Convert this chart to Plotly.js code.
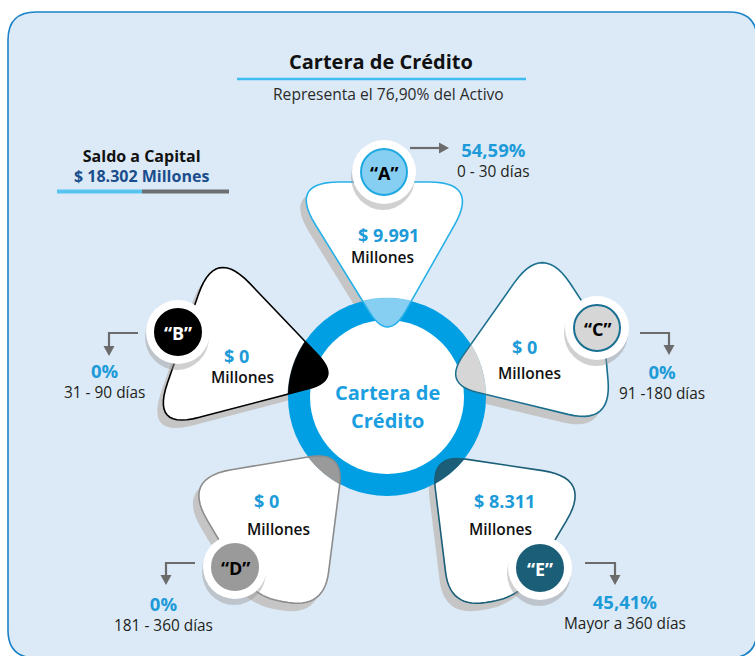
<!DOCTYPE html>
<html>
<head>
<meta charset="utf-8">
<script src="https://cdn.plot.ly/plotly-3.0.1.min.js"></script>
<style>html,body{margin:0;padding:0;background:#fff;}#chart{width:755px;height:656px;}</style>
</head>
<body>
<div id="chart"></div>
<script>
// ---------------- DATA ----------------
const categories = ['A', 'B', 'C', 'D', 'E'];
const saldoMillones = [9991, 0, 0, 0, 8311];
const participacion = [54.59, 0, 0, 0, 45.41];
const plazos = ['0 - 30 días', '31 - 90 días', '91 -180 días', '181 - 360 días', 'Mayor a 360 días'];
const saldoTotal = 18302;
const pctActivo = 76.90;

// ---------------- STYLE / GEOMETRY ----------------
const segColor   = ['#86cff3', '#000000', '#d6d6d6', '#9a9a9a', '#1b5e78'];
const edgeColor  = ['#27b1e8', '#000000', '#1a6f8f', '#8c8c8c', '#1b5e78'];
const letterCol  = ['#000000', '#ffffff', '#000000', '#000000', '#ffffff'];
const innerEdge  = ['#1ea9e1', '#000000', '#1a7092', '#9a9a9a', '#1b5e78'];
const petalVerts = [
  [[388,342,35],[479,182,50],[289,182,50]],
  [[342,380,35],[215,247,50],[151,430,50]],
  [[443,384,35],[543,242,50],[604,335,30],[612,425,50]],
  [[344,451,35],[324,608,45],[253,597,30],[182,478,50]],
  [[431,454,35],[592,478,50],[521,597,30],[450,608,45]]
];
const badge = [[384,172],[178,332],[597,328],[235,567],[540,568]];
const valPos = [[388,235,382,257],[236,356,242,377],[524,347,529,373],[266,501,278,529],[504,501,500,529]];
const pctPos = [[493,159.5],[104,380],[662,381.5],[163,613.5],[625,611]];
const arrows = [
  {pts:[[410,148],[440,148]], tip:[449,148], dir:'r'},
  {pts:[[138,333],[109,333],[109,347]], tip:[109,356], dir:'d'},
  {pts:[[640,333],[669,333],[669,346]], tip:[669,355], dir:'d'},
  {pts:[[195,563],[166,563],[166,576]], tip:[166,585], dir:'d'},
  {pts:[[585,563],[615,563],[615,576]], tip:[615,585], dir:'d'}
];
const ring = {cx:387, cy:397, rOut:99, rIn:77};
const SANS = '"Open Sans", sans-serif';

// ---------------- HELPERS ----------------
function roundedPoly(verts){
  const n = verts.length, out = [];
  for(let i=0;i<n;i++){
    const V = verts[i], P = verts[(i-1+n)%n], N = verts[(i+1)%n];
    const l1 = Math.hypot(P[0]-V[0],P[1]-V[1]), l2 = Math.hypot(N[0]-V[0],N[1]-V[1]);
    const d = Math.min(V[2], l1*0.5, l2*0.5);
    const a = [V[0]+(P[0]-V[0])/l1*d, V[1]+(P[1]-V[1])/l1*d];
    const b = [V[0]+(N[0]-V[0])/l2*d, V[1]+(N[1]-V[1])/l2*d];
    for(let k=0;k<=14;k++){
      const t=k/14, u=1-t;
      out.push([u*u*a[0]+2*u*t*V[0]+t*t*b[0], u*u*a[1]+2*u*t*V[1]+t*t*b[1]]);
    }
  }
  return out;
}
function circlePoly(cx,cy,r,n){
  const p=[]; for(let i=0;i<n;i++){const a=2*Math.PI*i/n; p.push([cx+r*Math.cos(a), cy+r*Math.sin(a)]);} return p;
}
function clipPoly(subject, clip){
  let output = subject;
  let area=0; for(let i=0;i<clip.length;i++){const a=clip[i],b=clip[(i+1)%clip.length];area+=a[0]*b[1]-b[0]*a[1];}
  const sgn = area>0?1:-1;
  for(let i=0;i<clip.length;i++){
    const A=clip[i], B=clip[(i+1)%clip.length];
    const inside = p => sgn*((B[0]-A[0])*(p[1]-A[1])-(B[1]-A[1])*(p[0]-A[0]))>=0;
    const inter = (p,q)=>{
      const x1=p[0],y1=p[1],x2=q[0],y2=q[1],x3=A[0],y3=A[1],x4=B[0],y4=B[1];
      const den=(x1-x2)*(y3-y4)-(y1-y2)*(x3-x4);
      const t=((x1-x3)*(y3-y4)-(y1-y3)*(x3-x4))/den;
      return [x1+t*(x2-x1), y1+t*(y2-y1)];
    };
    const input = output; output = [];
    if(!input.length) break;
    for(let j=0;j<input.length;j++){
      const cur=input[j], prev=input[(j-1+input.length)%input.length];
      if(inside(cur)){ if(!inside(prev)) output.push(inter(prev,cur)); output.push(cur); }
      else if(inside(prev)) output.push(inter(prev,cur));
    }
  }
  return output.filter((p,i,arr)=>{const q=arr[(i+1)%arr.length]; return Math.hypot(p[0]-q[0],p[1]-q[1])>0.01;});
}
function insideRun(poly, cx, cy, r){
  const n=poly.length, ins = poly.map(p=>Math.hypot(p[0]-cx,p[1]-cy)<=r);
  let start = ins.findIndex((v,i)=>!v && ins[(i+1)%n]);
  if(start<0) return [];
  const cross=(p,q)=>{ let a=p,b=q; for(let k=0;k<30;k++){const m=[(a[0]+b[0])/2,(a[1]+b[1])/2]; if(Math.hypot(m[0]-cx,m[1]-cy)<=r) b=m; else a=m;} return b; };
  const out=[cross(poly[start], poly[(start+1)%n])];
  let i=(start+1)%n;
  while(ins[i]){ out.push(poly[i]); const nx=(i+1)%n; if(!ins[nx]){ out.push(cross(poly[nx],poly[i])); break;} i=nx; }
  return out;
}
function toPath(pts, close=true){
  return 'M ' + pts.map(p=>p[0].toFixed(2)+','+p[1].toFixed(2)).join(' L ') + (close?' Z':'');
}
function shift(pts,dx,dy){return pts.map(p=>[p[0]+dx,p[1]+dy]);}
function fmtMiles(n){return String(n).replace(/\B(?=(\d{3})+(?!\d))/g,'.');}
function fmtPct(p){return p===0?'0%':p.toFixed(2).replace('.',',')+'%';}

// ---------------- BUILD ----------------
const shapes = [];
const S = (o)=>shapes.push(Object.assign({xref:'x', yref:'y', layer:'above', opacity:1}, o));

S({type:'path', path:'M 8,40 Q 8,12 36,12 L 729,12 Q 757,12 757,40 L 757,630 Q 757,658 729,658 L 36,658 Q 8,658 8,630 Z',
   fillcolor:'#dceaf7', line:{color:'#1b82c8', width:1.6}});
S({type:'line', x0:237, x1:526, y0:79, y1:79, line:{color:'#3fbdf0', width:2.5}});
S({type:'line', x0:57, x1:142, y0:191.5, y1:191.5, line:{color:'#56c3f0', width:4}});
S({type:'line', x0:142, x1:229, y0:191.5, y1:191.5, line:{color:'#6d6e71', width:4}});

const petalPolys = petalVerts.map(v=>roundedPoly(v));
petalPolys.forEach(p=>S({type:'path', path:toPath(shift(p,-6,8)), fillcolor:'#c5c5c5', line:{width:0}}));
petalPolys.forEach((p,i)=>S({type:'path', path:toPath(p), fillcolor:'#ffffff', line:{color:edgeColor[i], width:1.6}}));
const outerC = circlePoly(ring.cx, ring.cy, ring.rOut, 240);
S({type:'circle', x0:ring.cx-ring.rOut, x1:ring.cx+ring.rOut, y0:ring.cy-ring.rOut, y1:ring.cy+ring.rOut, fillcolor:'#009fe3', line:{width:0}});
S({type:'circle', x0:ring.cx-ring.rIn, x1:ring.cx+ring.rIn, y0:ring.cy-ring.rIn, y1:ring.cy+ring.rIn, fillcolor:'#ffffff', line:{width:0}});
petalPolys.forEach((p,i)=>{
  const seg = clipPoly(p, outerC);
  if(seg.length) S({type:'path', path:toPath(seg), fillcolor:segColor[i], fillrule:'nonzero', line:{color:segColor[i], width:0.5}});
  const run = insideRun(p, ring.cx, ring.cy, ring.rOut);
  if(run.length) S({type:'path', path:toPath(run,false), line:{color:edgeColor[i], width:1.5}});
});
badge.forEach((c,i)=>{
  S({type:'circle', x0:c[0]-33, x1:c[0]+31, y0:c[1]-28, y1:c[1]+38, fillcolor:'rgba(150,150,150,0.45)', line:{width:0}});
  S({type:'circle', x0:c[0]-32, x1:c[0]+32, y0:c[1]-32, y1:c[1]+32, fillcolor:'#ffffff', line:{width:0}});
  S({type:'circle', x0:c[0]-23, x1:c[0]+23, y0:c[1]-23, y1:c[1]+23, fillcolor:segColor[i], line:{color:innerEdge[i], width:2}});
});
arrows.forEach(a=>{
  S({type:'path', path:toPath(a.pts,false), line:{color:'#6b6b6b', width:2.2}});
  const [tx,ty]=a.tip;
  const head = a.dir==='r' ? [[tx,ty],[tx-10,ty-5.5],[tx-10,ty+5.5]] : [[tx,ty],[tx-5.5,ty-10],[tx+5.5,ty-10]];
  S({type:'path', path:toPath(head), fillcolor:'#6b6b6b', line:{width:0}});
});

const ann = [];
const T = (x,y,text,size,color,weight)=>ann.push({x,y,xref:'x',yref:'y',text,showarrow:false,xanchor:'center',yanchor:'middle',align:'center',
  font:{size, color, weight:weight||400, family:SANS}});

T(381,61,'Cartera de Crédito',20,'#111111',700);
T(388,94,'Representa el '+pctActivo.toFixed(2).replace('.',',')+'% del Activo',15.6,'#2a2a2a',400);
T(141,165.5,'<span style="font-size:16px;color:#111111">Saldo a Capital</span><br><span style="font-size:16px;color:#1a4d8c">$ '+fmtMiles(saldoTotal)+' Millones</span>',15.2,'#111111',700);
T(387,392,'Cartera de',20,'#1b9fe0',700);
T(387,420,'Crédito',20,'#1b9fe0',700);

categories.forEach((c,i)=>{
  T(badge[i][0], badge[i][1]+1, '\u201C'+c+'\u201D', 18, letterCol[i], 700);
  T(valPos[i][0], valPos[i][1], '$ '+fmtMiles(saldoMillones[i]), 18, '#1d9bd8', 700);
  T(valPos[i][2], valPos[i][3], 'Millones', 15.5, '#111111', 600);
  T(pctPos[i][0], pctPos[i][1],
    '<span style="font-size:18.5px;font-weight:700;color:#1d9bd8">'+fmtPct(participacion[i])+'</span><br>'+plazos[i],
    15.4, '#231f20', 400);
});

const layout = {
  width:755, height:656, margin:{l:0,r:0,t:0,b:0},
  paper_bgcolor:'#ffffff', plot_bgcolor:'rgba(0,0,0,0)',
  xaxis:{range:[0,755], visible:false, fixedrange:true},
  yaxis:{range:[656,0], visible:false, fixedrange:true},
  shapes, annotations:ann, showlegend:false
};
Plotly.newPlot('chart', [{type:'scatter', x:[], y:[], hoverinfo:'skip'}], layout, {staticPlot:true, displayModeBar:false});
</script>
</body>
</html>
